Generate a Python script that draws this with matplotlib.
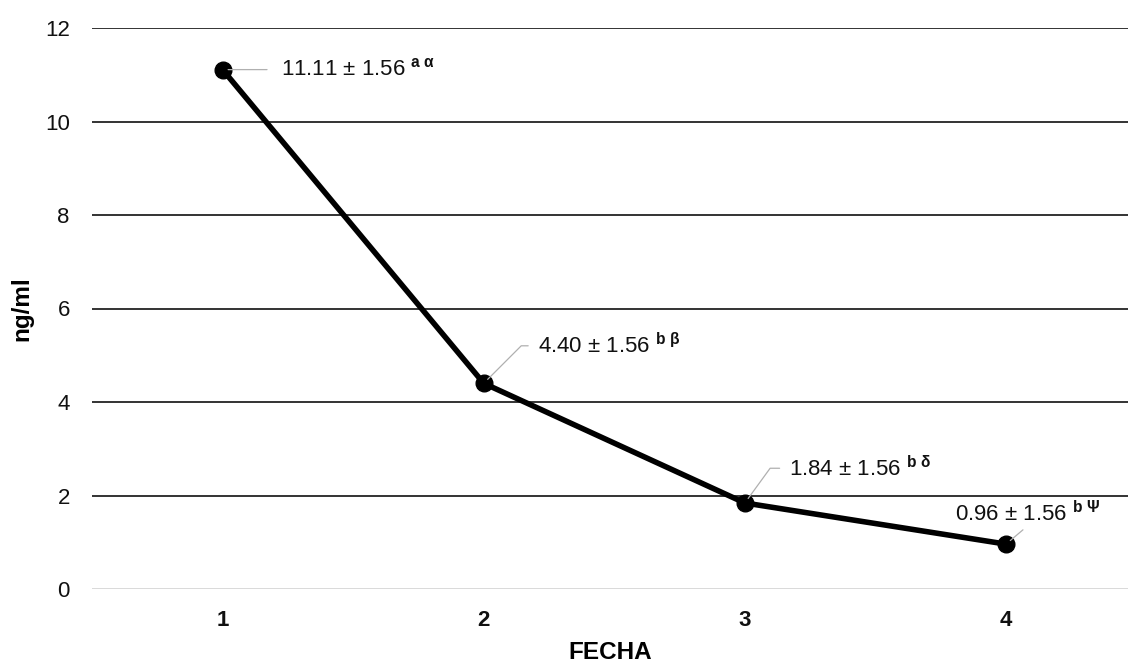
import matplotlib
matplotlib.use("Agg")
import matplotlib.pyplot as plt

plt.rcParams["font.family"] = ["Liberation Sans", "DejaVu Sans"]
plt.rcParams["mathtext.fontset"] = "custom"
plt.rcParams["mathtext.rm"] = "Liberation Sans"
plt.rcParams["mathtext.it"] = "Liberation Sans"
plt.rcParams["mathtext.bf"] = "Liberation Sans:bold"

# data
fecha = [1, 2, 3, 4]
ng_ml = [11.11, 4.40, 1.84, 0.96]
sem = [1.56, 1.56, 1.56, 1.56]
letras = ["a", "b", "b", "b"]
griegas = [r"\alpha", r"\beta", r"\delta", r"\Psi"]
y_ticks = [0, 2, 4, 6, 8, 10, 12]

fig = plt.figure(figsize=(11.28, 6.63), dpi=100)
ax = fig.add_axes([92 / 1128, 1 - 589 / 663, 1 - 92 / 1128, (589 - 28) / 663])

# grid lines
for yv in y_ticks:
    col = "#d9d9d9" if yv == 0 else "#333333"
    ax.axhline(yv, color=col, lw=1.4, zorder=1)

ax.plot(fecha, ng_ml, color="black", lw=4.0, marker="o", markersize=12,
        zorder=3, solid_capstyle="round")

# annotation placement (offset points, relpos, connection)
offsets = [(42, 0), (39, 27), (32, 25), (-37, 22)]
relpos = [(0, 0.5), (0, 0.5), (0, 0.5), (0.5, 0)]
conns = ["arc3", "angle,angleA=0,angleB=45,rad=0",
         "angle,angleA=0,angleB=54,rad=0", "arc3"]
shrinks = [8, 5, 5, 1]

for x, y, s, l, g, off, rp, cs, sh in zip(fecha, ng_ml, sem, letras, griegas,
                                          offsets, relpos, conns, shrinks):
    label = f"{y:.2f} ± {s:.2f} " + r"$^{\bf " + l + r"\ " + g + r"}$"
    ax.annotate(label, xy=(x, y), xytext=off, textcoords="offset points",
                ha="left", va="center", fontsize=16, color="#111111",
                arrowprops=dict(arrowstyle="-", color="#b0b0b0", lw=0.9,
                                shrinkA=sh, shrinkB=4, relpos=rp,
                                connectionstyle=cs),
                zorder=4)

ax.set_xlim(0.5, 4.467)
ax.set_ylim(0, 12)
ax.set_yticks(y_ticks)
ax.set_xticks(fecha)
ax.set_xticklabels([str(v) for v in fecha], fontweight="bold")
ax.tick_params(axis="y", length=0, pad=16, labelsize=16, labelcolor="#111111")
ax.tick_params(axis="x", length=0, pad=15, labelsize=16, labelcolor="#111111")
for sp in ax.spines.values():
    sp.set_visible(False)

ax.set_ylabel("ng/ml", fontsize=17.5, fontweight="bold", labelpad=8)
ax.set_xlabel("FECHA", fontsize=17.5, fontweight="bold", labelpad=7)

fig.savefig("out.png", dpi=100)
